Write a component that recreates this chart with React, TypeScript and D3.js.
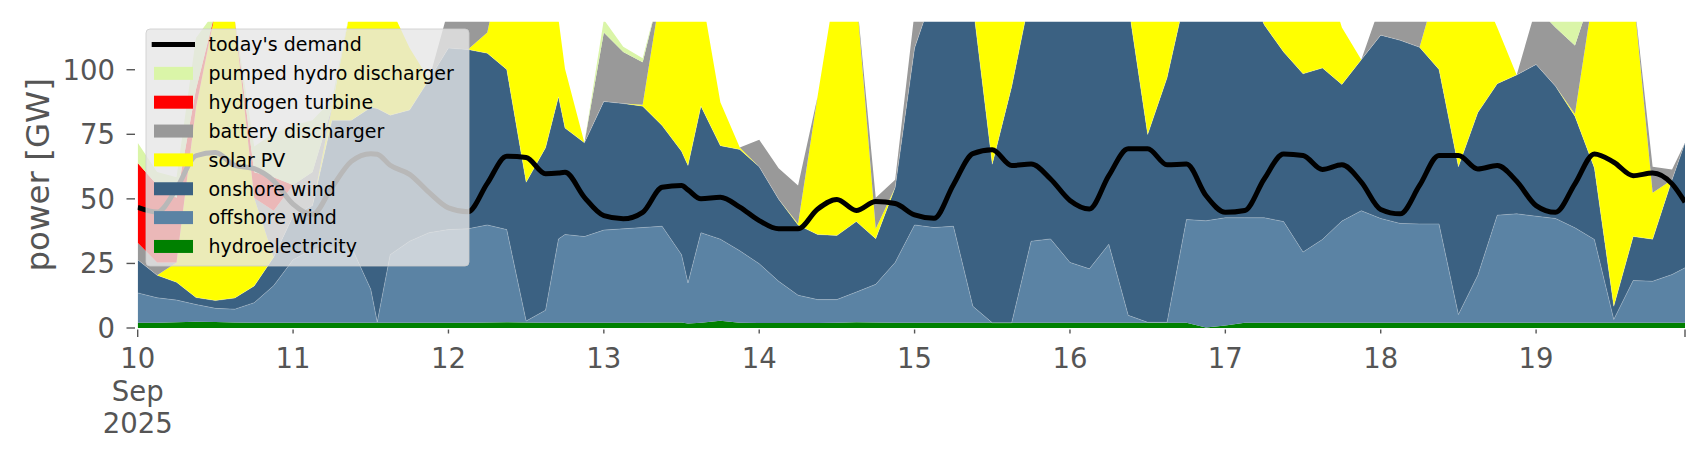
import React from 'react';
import * as d3 from 'd3';

// ---- data (hours after 10 Sep 2025 00:00 UTC, values in GW) ----
const HOURS = [0,3,6,9,12,15,18,21,24,27,
  30,33,36,37,39,42,45,48,51,54,57,
  60,63,65,66,69,72,75,78,81,84,85,87,
  90,93,96,99,102,105,108,111,114,117,
  120,123,126,129,132,135,138,141,144,147,
  150,153,156,159,162,165,168,171,174,177,
  180,183,186,189,192,195,198,201,204,207,
  210,213,216,219,222,225,228,231,234,237,
  239];

const HYDRO = [2.0,2.0,2.2,2.4,2.3,2.1,2.0,2.0,2.0,2.0,
  2.0,2.0,2.0,2.0,2.0,2.0,2.0,2.0,2.0,2.1,2.2,
  2.1,2.0,2.0,2.0,2.0,2.0,2.0,2.0,2.1,2.1,1.7,2.0,
  2.8,2.0,1.9,1.9,1.9,1.9,2.0,2.2,2.1,2.0,
  2.0,2.0,2.0,2.0,2.0,2.0,2.0,2.0,2.0,2.0,
  2.0,2.0,2.0,2.0,2.0,0.2,1.0,2.0,2.0,2.0,
  2.0,2.0,2.0,2.0,2.0,2.0,2.0,2.0,2.0,2.0,
  2.0,2.0,2.0,2.0,2.0,2.0,2.0,2.0,2.0,2.0,
  2.0];

const OFFSHORE = [11.6,9.7,8.6,6.7,5.3,5.2,7.8,14.4,24.4,28.4,
  29.4,29.4,13.0,0.3,26.4,31.6,34.9,36.1,36.4,37.8,35.9,
  0.6,4.9,32.5,34.2,33.4,35.9,36.4,36.9,37.3,26.3,15.7,34.9,
  31.6,27.9,23.0,16.2,10.8,9.1,9.0,11.7,14.8,23.4,
  37.9,36.9,37.4,6.4,0,0,31.6,32.5,23.4,20.9,
  30.4,2.9,0.2,0.2,40.0,41.3,41.7,40.7,40.7,39.2,
  27.4,32.3,39.4,43.4,40.4,38.5,38.3,38.3,3.2,18.4,
  41.7,42.2,41.3,40.4,36.8,32.3,1.3,16.4,16.1,18.7,
  21.3];

const ONSHORE = [12.8,8.7,6.9,2.7,3.0,4.3,6.5,11,17,17,
  49,49,70.4,82.7,54,50.8,59.3,70.3,69.4,66.5,62,
  53.7,62.9,55,41.2,36.3,49.8,48.5,47,39,40,45.5,49,
  36.2,39.2,37.5,31.8,27.2,25.2,24.8,27.3,17.7,29,
  68.5,91.5,96,117,61.4,91.4,96.8,100.9,115,117.5,
  103,120.5,72.7,94.7,88.4,98.7,97.5,92.7,74.7,65.7,
  69,66.4,52.9,58.5,71,70.9,68.4,59.8,57.2,63,
  50.9,53.8,58.7,51.2,43.2,27.7,5.1,17,16.3,36.7,
  48.4];

const SOLAR = [0,0,7.7,73.5,112,107.7,34,0,0,0,
  5,45,55,58,42,24,0,0,0,8,50,
  85,62,30,23,0,0,0,0.5,55,80,80,45,
  16.8,0.8,0,0,0.5,53.2,100,88,3.8,0,
  0,0,0,30,75,50,10,0,0,0,
  0,30,70,45,8,0,0,0,1,30,
  50,40,22.1,0,0,0,0,35,80,50,
  21.8,0,0,0,0.9,70,118,95,18,0,
  0];

const BATTERY = [6.6,5,0,0,0,0,0,18,12,13,
  0,0,0,0,0,0,0,15,15,9,0,
  0,0,0,0,0,26.7,20,16.5,0,0,0,0,
  0,0,10.5,12,14.8,0,0,0,12,3,
  14,0,0,0,0,0,0,0,0,0,
  0,0,0,0,0,0,0,0,2,0,
  0,0,0,0,12,14,15,0,0,0,
  0,0,22,22.8,26.5,0,0,0,10,4,
  0];

const HYDROGEN = [30.9,30,25,7,0,0,10,13,0,0,
  0,0,0,0,0,0,0,0,0,0,0,
  0,0,0,0,0,0,0,0,0,0,0,0,
  0,0,0,0,0,0,0,0,0,0,
  0,0,0,0,0,0,0,0,0,0,
  0,0,0,0,0,0,0,0,0,0,
  0,0,0,0,0,0,0,0,0,0,
  0,0,0,0,0,0,0,0,0,0,
  0];

const PUMPED = [7.8,5,8,20,0,0,10,17,23,20,
  3,0,0,0,0,0,0,0,0,0,0,
  0,0,0,0,0,5,2,1.5,0,0,0,0,
  0,0,0,0,0,0,0,0,0,0,
  0,0,0,0,0,0,0,0,0,0,
  0,0,0,0,0,0,0,0,0,0,
  0,0,0,0,0,0,0,0,0,0,
  0,0,0,9,16,0,0,0,0,0,
  0];

const DEMAND = [46.7,44.9,54,66.7,68,63,61.7,57,48,44,
  54.5,64.5,67.5,67.3,63,59.5,52.5,46.5,45,56,66.5,
  66,59.7,60,60.3,50.6,43.5,42.3,44.8,54.5,55.2,53.5,50,
  50.6,46.8,41.6,38.4,38.4,46,49.8,45.5,49,48.2,
  43.8,42.5,55.5,67.5,69,62.9,63.5,57.7,49.4,46.1,
  59,69.4,69.4,63.2,63.5,51.3,44.8,45.5,57.7,67.4,
  66.8,61.4,63.2,56.5,45.9,44.2,55.2,66.8,66.8,61.6,
  62.9,56.8,47.4,44.8,55.8,67.4,64.2,59,60,55.8,
  48.7];

const SERIES_KEYS = ['hydroelectricity','offshore wind','onshore wind','solar PV','battery discharger','hydrogen turbine','pumped hydro discharger'];
const SERIES_VALUES = [HYDRO, OFFSHORE, ONSHORE, SOLAR, BATTERY, HYDROGEN, PUMPED];
const SERIES_COLORS = ['#008000','#5b83a4','#3b6182','#ffff00','#999999','#ff0000','#daf5a8'];

const DAYS = [10,11,12,13,14,15,16,17,18,19];
const Y_TICKS = [0,25,50,75,100];
const Y_MAX = 118.6;
const DEMAND_LABEL = "today's demand";
const Y_LABEL = 'power [GW]';

const FONT = '"DejaVu Sans", sans-serif';
const TXT = '#555555';

export default function App() {
  const W = 1706, H = 460;
  const left = 137.7, right = 1685, top = 21.7, bottom = 328;
  const t0 = Date.UTC(2025, 8, 10, 0);
  const times = HOURS.map(h => new Date(t0 + h * 3600e3));
  const x = d3.scaleUtc().domain([times[0], times[times.length - 1]]).range([left, right]);
  const y = d3.scaleLinear().domain([0, Y_MAX]).range([bottom, top]);

  const rows = HOURS.map((_, i) => {
    const r: any = { t: times[i] };
    SERIES_KEYS.forEach((k, j) => { r[k] = SERIES_VALUES[j][i]; });
    return r;
  });
  const stacked = d3.stack().keys(SERIES_KEYS)(rows as any);
  const area = d3.area<any>()
    .x((d: any) => x(d.data.t))
    .y0((d: any) => y(d[0]))
    .y1((d: any) => y(d[1]));
  const topLine = d3.line<any>()
    .x((d: any) => x(d.data.t))
    .y((d: any) => y(d[1]));
  const line = d3.line<number>()
    .x((_, i) => x(times[i]))
    .y(d => y(d))
    .curve(d3.curveMonotoneX);

  const legendItems = [
    { label: DEMAND_LABEL, color: '#000', isLine: true },
    ...SERIES_KEYS.map((k, j) => ({ label: k, color: SERIES_COLORS[j], isLine: false })).reverse(),
  ];

  const lx = 146, ly = 29, lw = 323, lh = 237;
  const rowY0 = 44.5, rowStep = 28.85;

  return (
    <svg width={W} height={H} style={{ position: 'absolute', left: 0, top: 0, background: '#fff' }} fontFamily={FONT}>
      <defs>
        <clipPath id="plotclip">
          <rect x={left} y={top} width={right - left} height={bottom - top} />
        </clipPath>
      </defs>
      <g clipPath="url(#plotclip)">
        {stacked.map((s, j) => (
          <path key={SERIES_KEYS[j]} d={area(s as any) || ''} fill={SERIES_COLORS[j]} stroke="none" />
        ))}
        {[1, 2].map(j => (
          <path key={'seam' + j} d={topLine(stacked[j] as any) || ''} fill="none" stroke="#ffffff" strokeOpacity={0.3} strokeWidth={0.8} />
        ))}
        <path d={line(DEMAND) || ''} fill="none" stroke="#000" strokeWidth={5} strokeLinejoin="round" />
      </g>

      {/* y axis */}
      {Y_TICKS.map(v => (
        <g key={v}>
          <line x1={126.5} x2={135} y1={y(v)} y2={y(v)} stroke={TXT} strokeWidth={1.4} />
          <text x={115} y={y(v)} dy="0.36em" textAnchor="end" fontSize={27.5} fill={TXT}>{v}</text>
        </g>
      ))}
      <text transform={`translate(38,${(top + bottom) / 2}) rotate(-90)`} textAnchor="middle" dominantBaseline="central" fontSize={32.5} fill={TXT}>{Y_LABEL}</text>

      {/* x axis */}
      {DAYS.map((d, i) => {
        const xx = x(new Date(Date.UTC(2025, 8, d)));
        const lines = i === 0 ? [String(d), 'Sep', '2025'] : [String(d)];
        return (
          <g key={d}>
            <line x1={xx} x2={xx} y1={329.5} y2={i === 0 ? 337 : 333.5} stroke={TXT} strokeWidth={1.4} />
            {lines.map((s, k) => (
              <text key={k} x={xx} y={368.3 + k * 32.5} textAnchor="middle" fontSize={27.5} fill={TXT}>{s}</text>
            ))}
          </g>
        );
      })}
      <line x1={right} x2={right} y1={329.5} y2={337} stroke={TXT} strokeWidth={1.4} />

      {/* legend */}
      <rect x={lx} y={ly} width={lw} height={lh} rx={4} ry={4} fill="#e6e6e6" fillOpacity={0.8} stroke="#cccccc" strokeOpacity={0.8} strokeWidth={1} />
      {legendItems.map((it, i) => {
        const cy = rowY0 + i * rowStep;
        return (
          <g key={it.label}>
            {it.isLine
              ? <line x1={151.7} x2={195} y1={cy} y2={cy} stroke="#000" strokeWidth={5} />
              : <rect x={154} y={cy - 6.5} width={39} height={13} fill={it.color} />}
            <text x={208.5} y={cy} dy="0.36em" fontSize={19} fill="#000">{it.label}</text>
          </g>
        );
      })}
    </svg>
  );
}
